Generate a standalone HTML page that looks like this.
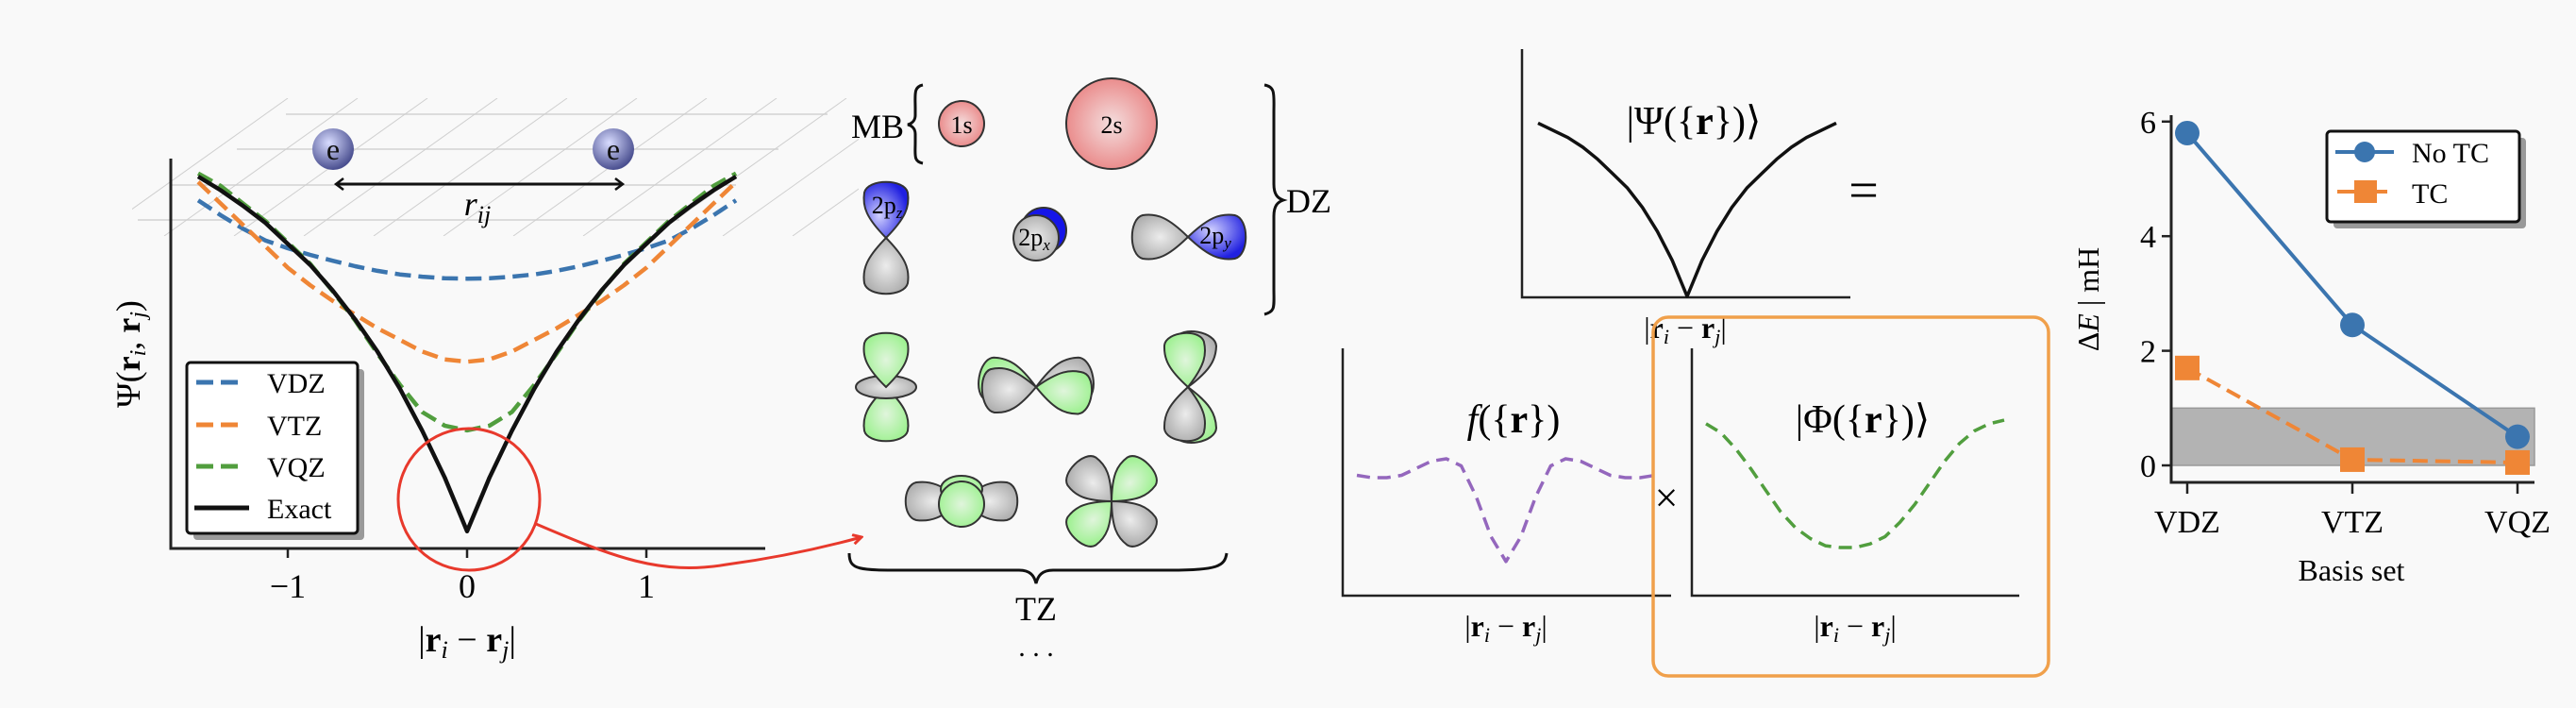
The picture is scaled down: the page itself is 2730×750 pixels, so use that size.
<!DOCTYPE html>
<html><head><meta charset="utf-8"><style>
html,body{margin:0;padding:0;background:#f9f9f9;}
svg{display:block;font-family:"Liberation Serif",serif;}
</style></head><body>
<svg id="fig" width="2730" height="750" viewBox="0 0 2730 750" xmlns="http://www.w3.org/2000/svg">
<defs>
<radialGradient id="gRed" cx="50%" cy="50%" r="55%"><stop offset="0" stop-color="#f4dede"/><stop offset="1" stop-color="#e98484"/></radialGradient>
<radialGradient id="gBlue" cx="40%" cy="35%" r="65%"><stop offset="0" stop-color="#d0d0ff"/><stop offset="1" stop-color="#2020e0"/></radialGradient>
<radialGradient id="gGrey" cx="50%" cy="50%" r="60%"><stop offset="0" stop-color="#ececec"/><stop offset="1" stop-color="#a8a8a8"/></radialGradient>
<radialGradient id="gGreen" cx="50%" cy="50%" r="60%"><stop offset="0" stop-color="#e0f5dc"/><stop offset="1" stop-color="#98f08a"/></radialGradient>
<radialGradient id="gE" cx="40%" cy="35%" r="65%"><stop offset="0" stop-color="#d8dcff"/><stop offset="1" stop-color="#4a4f90"/></radialGradient>
<marker id="arrR" markerWidth="12" markerHeight="12" refX="10" refY="6" orient="auto" markerUnits="userSpaceOnUse"><path d="M1,1 L10,6 L1,11" fill="none" stroke="#e8392c" stroke-width="3"/></marker>
<marker id="arrK" markerWidth="12" markerHeight="14" refX="10" refY="7" orient="auto-start-reverse" markerUnits="userSpaceOnUse"><path d="M2,1 L10,7 L2,13" fill="none" stroke="#111" stroke-width="2.5"/></marker>
<clipPath id="planeClip"><rect x="140" y="104" width="770" height="146"/></clipPath>
</defs>

<g id="plane"></g>
<g><ellipse cx="353" cy="158" rx="22" ry="22" fill="url(#gE)"/><text x="353" y="169" font-size="32" text-anchor="middle" fill="#111">e</text></g>
<g><ellipse cx="650" cy="158" rx="22" ry="22" fill="url(#gE)"/><text x="650" y="169" font-size="32" text-anchor="middle" fill="#111">e</text></g>
<line x1="356" y1="195" x2="660" y2="195" stroke="#111" stroke-width="3" marker-start="url(#arrK)" marker-end="url(#arrK)"/>
<text x="506" y="228" font-size="36" font-style="italic" text-anchor="middle">r<tspan font-size="26" dy="8">ij</tspan></text>

<g id="p1"></g>
<text transform="translate(148,375) rotate(-90)" font-size="36" text-anchor="middle">Ψ(<tspan font-weight="bold">r</tspan><tspan font-size="24" font-style="italic" dy="6">i</tspan><tspan dy="-6">, </tspan><tspan font-weight="bold">r</tspan><tspan font-size="24" font-style="italic" dy="6">j</tspan><tspan dy="-6">)</tspan></text>
<text x="495" y="690" font-size="38" text-anchor="middle">|<tspan font-weight="bold">r</tspan><tspan font-size="26" font-style="italic" dy="7">i</tspan><tspan dy="-7"> − </tspan><tspan font-weight="bold">r</tspan><tspan font-size="26" font-style="italic" dy="7">j</tspan><tspan dy="-7">|</tspan></text>

<g>
<rect x="205" y="391" width="181" height="181" rx="4" fill="#9a9a9a"/>
<rect x="198" y="384" width="181" height="181" rx="4" fill="#fff" stroke="#111" stroke-width="3"/>
<g><line x1="208" y1="405" x2="258" y2="405" stroke="#3b75af" stroke-width="5" stroke-dasharray="18,8"/><text x="283" y="416" font-size="30">VDZ</text></g>
<g><line x1="208" y1="450" x2="258" y2="450" stroke="#ef8636" stroke-width="5" stroke-dasharray="18,8"/><text x="283" y="461" font-size="30">VTZ</text></g>
<g><line x1="208" y1="494" x2="258" y2="494" stroke="#519e3e" stroke-width="5" stroke-dasharray="18,8"/><text x="283" y="505" font-size="30">VQZ</text></g>
<g><line x1="206" y1="538" x2="264" y2="538" stroke="#111" stroke-width="5"/><text x="283" y="549" font-size="30">Exact</text></g>
</g>
<ellipse cx="497" cy="529" rx="75" ry="75" fill="none" stroke="#e8392c" stroke-width="3"/>
<path d="M568,555 C650,590 700,610 770,598 C830,590 880,578 913,569" fill="none" stroke="#e8392c" stroke-width="3" marker-end="url(#arrR)"/>

<g id="orb">
<text x="930" y="146" font-size="36" text-anchor="middle">MB</text>
<path d="M978,90 C968,92 970,100 970,115 L970,122 C970,128 966,131 962,132 C966,133 970,136 970,142 L970,150 C970,165 968,171 978,173" fill="none" stroke="#111" stroke-width="3"/>
<g><ellipse cx="1019" cy="131" rx="24" ry="24" fill="url(#gRed)" stroke="#333" stroke-width="2"/><text x="1019" y="141" font-size="26" text-anchor="middle">1s</text></g>
<g><ellipse cx="1178" cy="131" rx="48" ry="48" fill="url(#gRed)" stroke="#333" stroke-width="2"/><text x="1178" y="141" font-size="26" text-anchor="middle">2s</text></g>
<path d="M1340,90 C1352,92 1350,100 1350,120 L1350,195 C1350,206 1354,210 1360,212 C1354,214 1350,218 1350,229 L1350,305 C1350,325 1352,330 1340,333" fill="none" stroke="#111" stroke-width="3"/>
<text x="1387" y="225" font-size="36" text-anchor="middle">DZ</text>
<path d="M900,586 C900,604 910,604 960,604 L1080,604 C1092,604 1096,610 1098,618 C1100,610 1104,604 1116,604 L1240,604 C1290,604 1298,600 1300,586" fill="none" stroke="#111" stroke-width="3"/>
<text x="1098" y="657" font-size="36" text-anchor="middle">TZ</text>
<text x="1098" y="695" font-size="30" text-anchor="middle">. . .</text>
</g>

<g id="p3"></g>
<text x="1795" y="142" font-size="42" text-anchor="middle">|Ψ({<tspan font-weight="bold">r</tspan>})⟩</text>
<text x="1975" y="220" font-size="56" text-anchor="middle">=</text>
<text x="1604" y="458" font-size="42" text-anchor="middle"><tspan font-style="italic">f</tspan>({<tspan font-weight="bold">r</tspan>})</text>
<text x="1766" y="542" font-size="44" text-anchor="middle">×</text>
<text x="1974" y="458" font-size="42" text-anchor="middle">|Φ({<tspan font-weight="bold">r</tspan>})⟩</text>
<rect x="1752" y="336" width="419" height="380" rx="16" fill="none" stroke="#f0a04b" stroke-width="3.5"/>

<g id="p4"></g>
<text transform="translate(2224,317) rotate(-90)" font-size="32" text-anchor="middle">Δ<tspan font-style="italic">E</tspan> | mH</text>
<text x="2492" y="615" font-size="32" text-anchor="middle">Basis set</text>
</svg>
<script>
// ---------- Panel 1 data ----------
const p1X = [-1.5,-1.375,-1.25,-1.125,-1,-0.875,-0.75,-0.625,-0.5,-0.375,-0.25,-0.125,0,0.125,0.25,0.375,0.5,0.625,0.75,0.875,1,1.125,1.25,1.375,1.5];
const p1Exact = [0.954,0.919,0.879,0.835,0.781,0.727,0.662,0.588,0.505,0.410,0.302,0.182,0.044,0.182,0.302,0.410,0.505,0.588,0.662,0.727,0.781,0.835,0.879,0.919,0.954];
const p1VQZ = [0.962,0.930,0.885,0.840,0.785,0.730,0.660,0.585,0.500,0.420,0.350,0.315,0.303,0.315,0.350,0.420,0.500,0.585,0.660,0.730,0.785,0.840,0.885,0.930,0.962];
const p1VTZ = [0.940,0.885,0.830,0.775,0.720,0.675,0.635,0.600,0.565,0.535,0.505,0.485,0.479,0.485,0.505,0.535,0.565,0.600,0.635,0.675,0.720,0.775,0.830,0.885,0.940];
const p1VDZ = [0.893,0.855,0.820,0.790,0.770,0.753,0.738,0.724,0.712,0.703,0.697,0.693,0.692,0.693,0.697,0.703,0.712,0.724,0.738,0.753,0.770,0.790,0.820,0.855,0.893];
const p1Ticks = [-1,0,1];
const p1TickLabels = ["−1","0","1"];

// ---------- Panel 3 data ----------
const p3X = [-1,-0.9,-0.8,-0.7,-0.6,-0.5,-0.4,-0.3,-0.2,-0.1,0,0.1,0.2,0.3,0.4,0.5,0.6,0.7,0.8,0.9,1];
const psiVals = [0.72,0.69,0.66,0.62,0.57,0.51,0.45,0.37,0.27,0.15,0,0.15,0.27,0.37,0.45,0.51,0.57,0.62,0.66,0.69,0.72];
const jastrowVals = [0.51,0.50,0.50,0.51,0.54,0.57,0.58,0.55,0.42,0.25,0.145,0.25,0.42,0.55,0.58,0.57,0.54,0.51,0.50,0.50,0.51];
const phiVals = [0.69,0.64,0.55,0.44,0.32,0.20,0.11,0.05,0.01,0.0,0.0,0.02,0.06,0.14,0.24,0.36,0.48,0.58,0.65,0.69,0.71];

// ---------- Panel 4 data ----------
const basisSets = ["VDZ","VTZ","VQZ"];
const noTC = [5.8,2.45,0.5];
const tcVals = [1.7,0.1,0.05];
const yTicks = [0,2,4,6];
const band = [0,1];

const NS = "http://www.w3.org/2000/svg";
function mk(tag, attrs, parent){ const e=document.createElementNS(NS,tag); for(const k in attrs) e.setAttribute(k,attrs[k]); parent.appendChild(e); return e; }

(function(){
  const g=document.getElementById('plane');
  [[121,303,877],[158,251,825],[196,180,780],[233,146,720]].forEach(r=>{
    const l=mk('line',{x1:r[1],y1:r[0],x2:r[2],y2:r[0],stroke:'#d2d2d2','stroke-width':1.5},g);
    
    
  });
  const h=mk('g',{'clip-path':'url(#planeClip)'},g);
  for(let i=0;i<12;i++){
    const x0=100+i*74;
    const l=mk('line',{x1:x0,y1:250,x2:x0+205,y2:104,stroke:'#cfcfcf','stroke-width':1},h);
    
    
  }
})();

(function(){
  const g=document.getElementById('p1');
  const X0=181, XE=811, Y0=581, YT=168;
  const sx=v=>495+v*190, sy=v=>Y0-v*413;
  const ax=mk('path',{d:`M${X0},${YT} L${X0},${Y0} L${XE},${Y0}`,fill:'none',stroke:'#222','stroke-width':3},g);
  
  
  p1Ticks.forEach((t,i)=>{
    const tk=mk('line',{x1:sx(t),y1:Y0,x2:sx(t),y2:Y0+10,stroke:'#222','stroke-width':2.5},g);
    
    
    const tl=mk('text',{x:sx(t),y:Y0+52,'font-size':36,'text-anchor':'middle'},g);
    tl.textContent=p1TickLabels[i];
    
    
  });
  const series=[[p1VDZ,'#3b75af',true,'series-vdz'],[p1VTZ,'#ef8636',true,'series-vtz'],[p1VQZ,'#519e3e',true,'series-vqz'],[p1Exact,'#111',false,'series-exact']];
  series.forEach(s=>{
    const d=s[0].map((v,i)=>(i?'L':'M')+sx(p1X[i]).toFixed(1)+','+sy(v).toFixed(1)).join(' ');
    const p=mk('path',{d:d,fill:'none',stroke:s[1],'stroke-width':4.5,'stroke-linejoin':'round'},g);
    if(s[2]) p.setAttribute('stroke-dasharray','17,8');
    
    
  });
})();

(function(){
  const g=document.getElementById('orb');
  function lobe(cx,cy,ang,len,w,fill,name){
    const d=`M0,0 C${len*0.35},${-w*0.45} ${len*0.55},${-w*0.55} ${len*0.8},${-w*0.5} C${len*1.05},${-w*0.42} ${len*1.05},${w*0.42} ${len*0.8},${w*0.5} C${len*0.55},${w*0.55} ${len*0.35},${w*0.45} 0,0 Z`;
    const p=mk('path',{d:d,fill:fill,stroke:'#333','stroke-width':2,transform:`translate(${cx},${cy}) rotate(${ang})`},g);
    
    
    return p;
  }
  lobe(939,252,-90,60,46,'url(#gBlue)','orbital-2pz-lobe');
  lobe(939,252,90,60,46,'url(#gGrey)','orbital-2pz-lobe');
  let t=mk('text',{x:940,y:226,'font-size':26,'text-anchor':'middle'},g); t.innerHTML='2p<tspan font-size="17" font-style="italic" dy="5">z</tspan>';
  
  
  let c=mk('ellipse',{cx:1106,cy:244,rx:24,ry:24,fill:'#1515e8',stroke:'#333','stroke-width':2},g);
  
  
  c=mk('ellipse',{cx:1098,cy:252,rx:24,ry:24,fill:'url(#gGrey)',stroke:'#333','stroke-width':2},g);
  
  
  t=mk('text',{x:1096,y:260,'font-size':26,'text-anchor':'middle'},g); t.innerHTML='2p<tspan font-size="17" font-style="italic" dy="5">x</tspan>';
  
  
  lobe(1259,251,180,60,46,'url(#gGrey)','orbital-2py-lobe');
  lobe(1259,251,0,62,46,'url(#gBlue)','orbital-2py-lobe');
  t=mk('text',{x:1288,y:258,'font-size':26,'text-anchor':'middle'},g); t.innerHTML='2p<tspan font-size="17" font-style="italic" dy="5">y</tspan>';
  
  
  lobe(939,410,90,58,46,'url(#gGreen)','orbital-dz2-lobe');
  c=mk('ellipse',{cx:939,cy:410,rx:32,ry:12,fill:'url(#gGrey)',stroke:'#333','stroke-width':2},g);
  
  
  lobe(939,410,-90,58,46,'url(#gGreen)','orbital-dz2-lobe');
  lobe(1098,410,-170,62,46,'url(#gGreen)','orbital-d-lobe');
  lobe(1098,410,-10,62,46,'url(#gGrey)','orbital-d-lobe');
  lobe(1098,410,175,58,46,'url(#gGrey)','orbital-d-lobe');
  lobe(1098,410,8,60,44,'url(#gGreen)','orbital-d-lobe');
  lobe(1259,410,-80,60,44,'url(#gGrey)','orbital-d-lobe');
  lobe(1259,410,80,60,44,'url(#gGreen)','orbital-d-lobe');
  lobe(1259,410,-95,58,42,'url(#gGreen)','orbital-d-lobe');
  lobe(1259,410,95,58,42,'url(#gGrey)','orbital-d-lobe');
  lobe(1019,531,180,60,40,'url(#gGrey)','orbital-d-lobe');
  lobe(1019,531,0,60,40,'url(#gGrey)','orbital-d-lobe');
  c=mk('ellipse',{cx:1019,cy:518,rx:22,ry:14,fill:'url(#gGreen)',stroke:'#333','stroke-width':2},g);
  
  
  c=mk('ellipse',{cx:1019,cy:534,rx:24,ry:24,fill:'url(#gGreen)',stroke:'#333','stroke-width':2},g);
  
  
  lobe(1178,531,-135,56,42,'url(#gGrey)','orbital-clover-lobe');
  lobe(1178,531,-45,56,42,'url(#gGreen)','orbital-clover-lobe');
  lobe(1178,531,135,56,42,'url(#gGreen)','orbital-clover-lobe');
  lobe(1178,531,45,56,42,'url(#gGrey)','orbital-clover-lobe');
})();

(function(){
  const g=document.getElementById('p3');
  function axes(x0,ytop,y0,xe,name){
    const a=mk('path',{d:`M${x0},${ytop} L${x0},${y0} L${xe},${y0}`,fill:'none',stroke:'#222','stroke-width':2.5},g);
    
    
  }
  function curve(vals,cx,half,y0,scale,color,dash,name){
    const d=vals.map((v,i)=>(i?'L':'M')+(cx+p3X[i]*half).toFixed(1)+','+(y0-v*scale).toFixed(1)).join(' ');
    const p=mk('path',{d:d,fill:'none',stroke:color,'stroke-width':3.5,'stroke-linejoin':'round'},g);
    if(dash) p.setAttribute('stroke-dasharray','14,8');
    
    
  }
  function xl(x,y){
    const t=mk('text',{x:x,y:y,'font-size':32,'text-anchor':'middle'},g);
    t.innerHTML='|<tspan font-weight="bold">r</tspan><tspan font-size="22" font-style="italic" dy="6">i</tspan><tspan dy="-6"> − </tspan><tspan font-weight="bold">r</tspan><tspan font-size="22" font-style="italic" dy="6">j</tspan><tspan dy="-6">|</tspan>';
    
    
  }
  axes(1613,52,315,1961,'psi-axes');
  curve(psiVals,1788,158,314,255,'#111',false,'psi-curve');
  xl(1786,358);
  axes(1423,369,631,1771,'jastrow-axes');
  curve(jastrowVals,1596,158,631,250,'#9467bd',true,'jastrow-curve');
  xl(1596,674);
  axes(1793,369,631,2140,'phi-axes');
  curve(phiVals,1966,158,580,190,'#519e3e',true,'phi-curve');
  xl(1966,674);
})();

(function(){
  const g=document.getElementById('p4');
  const X0=2301, XE=2686, Y0=511, YT=122;
  const sx=i=>2318+i*175, sy=v=>493-v*60.7;
  const b=mk('rect',{x:X0,y:sy(band[1]),width:XE-X0,height:sy(band[0])-sy(band[1]),fill:'#b3b3b3',stroke:'#999','stroke-width':1.5},g);
  
  
  const a=mk('path',{d:`M${X0},${YT} L${X0},${Y0} L${XE},${Y0}`,fill:'none',stroke:'#222','stroke-width':3},g);
  
  
  yTicks.forEach(v=>{
    const tk=mk('line',{x1:X0-10,y1:sy(v),x2:X0,y2:sy(v),stroke:'#222','stroke-width':2.5},g);
    
    
    const tl=mk('text',{x:X0-16,y:sy(v)+12,'font-size':34,'text-anchor':'end'},g);
    tl.textContent=String(v);
    
    
  });
  basisSets.forEach((n,i)=>{
    const tk=mk('line',{x1:sx(i),y1:Y0,x2:sx(i),y2:Y0+12,stroke:'#222','stroke-width':2.5},g);
    
    
    const tl=mk('text',{x:sx(i),y:Y0+53,'font-size':34,'text-anchor':'middle'},g);
    tl.textContent=n;
    
    
  });
  const l1=mk('path',{d:noTC.map((v,i)=>(i?'L':'M')+sx(i)+','+sy(v)).join(' '),fill:'none',stroke:'#3b75af','stroke-width':4},g);
  
  
  const l2=mk('path',{d:tcVals.map((v,i)=>(i?'L':'M')+sx(i)+','+sy(v)).join(' '),fill:'none',stroke:'#ef8636','stroke-width':4,'stroke-dasharray':'16,8'},g);
  
  
  noTC.forEach((v,i)=>{
    const c=mk('circle',{cx:sx(i),cy:sy(v),r:13,fill:'#3b75af'},g);
    
    
  });
  tcVals.forEach((v,i)=>{
    const r=mk('rect',{x:sx(i)-13,y:sy(v)-13,width:26,height:26,fill:'#ef8636'},g);
    
    
  });
  const lg=mk('g',{},g);
  
  
  mk('rect',{x:2473,y:146,width:204,height:96,rx:4,fill:'#999'},lg);
  mk('rect',{x:2466,y:139,width:204,height:96,rx:4,fill:'#fff',stroke:'#111','stroke-width':3},lg);
  const e1=mk('g',{},lg);
  
  
  mk('line',{x1:2475,y1:161,x2:2537,y2:161,stroke:'#3b75af','stroke-width':4},e1);
  mk('circle',{cx:2506,cy:161,r:11,fill:'#3b75af'},e1);
  const t1=mk('text',{x:2556,y:172,'font-size':30},e1); t1.textContent='No TC';
  const e2=mk('g',{},lg);
  
  
  mk('line',{x1:2477,y1:203,x2:2530,y2:203,stroke:'#ef8636','stroke-width':4},e2);
  mk('rect',{x:2495,y:191,width:24,height:24,fill:'#ef8636'},e2);
  const t2=mk('text',{x:2556,y:215,'font-size':30},e2); t2.textContent='TC';
})();
</script>
</body></html>
